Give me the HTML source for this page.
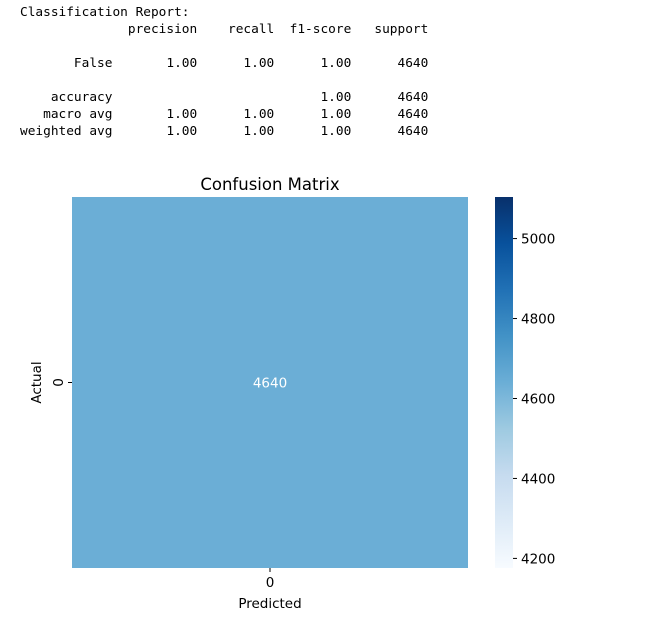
<!DOCTYPE html>
<html><head><meta charset="utf-8"><style>
body{margin:0;width:657px;height:640px;background:#fff;position:relative;overflow:hidden;font-family:"DejaVu Sans","Liberation Sans",sans-serif}
pre{position:absolute;left:20px;top:4px;margin:0;font-family:"DejaVu Sans Mono","Liberation Mono",monospace;font-size:12.8px;line-height:17px;color:#000}
</style></head><body>
<pre>Classification Report:
              precision    recall  f1-score   support

       False       1.00      1.00      1.00      4640

    accuracy                           1.00      4640
   macro avg       1.00      1.00      1.00      4640
weighted avg       1.00      1.00      1.00      4640
</pre>
<svg id="chart" width="657" height="640" style="position:absolute;left:0;top:0;font-family:'DejaVu Sans','Liberation Sans',sans-serif">
<defs><linearGradient id="blues" x1="0" y1="1" x2="0" y2="0">
<stop offset="0" stop-color="#f7fbff"/><stop offset="0.125" stop-color="#deebf7"/><stop offset="0.25" stop-color="#c6dbef"/><stop offset="0.375" stop-color="#9ecae1"/><stop offset="0.5" stop-color="#6baed6"/><stop offset="0.625" stop-color="#4292c6"/><stop offset="0.75" stop-color="#2171b5"/><stop offset="0.875" stop-color="#08519c"/><stop offset="1" stop-color="#08306b"/></linearGradient></defs>
</svg>
<script>
const rowLabels=["0"];
const colLabels=["0"];
const cellValues=[[4640]];
const cbTicks=[4200,4400,4600,4800,5000];
const vmin=4176, vmax=5104;
const svg=document.getElementById('chart');
const NS="http://www.w3.org/2000/svg";
function mk(t,a,txt){const e=document.createElementNS(NS,t);for(const k in a)e.setAttribute(k,a[k]);if(txt!=null)e.textContent=txt;svg.appendChild(e);return e;}
const X0=72,X1=468,Y0=197,Y1=568;
const cw=(X1-X0)/colLabels.length, ch=(Y1-Y0)/rowLabels.length;
const stops=[[0,[247,251,255]],[.125,[222,235,247]],[.25,[198,219,239]],[.375,[158,202,225]],[.5,[107,174,214]],[.625,[66,146,198]],[.75,[33,113,181]],[.875,[8,81,156]],[1,[8,48,107]]];
function color(v){let t=Math.max(0,Math.min(1,(v-vmin)/(vmax-vmin)));for(let i=1;i<stops.length;i++){if(t<=stops[i][0]){const a=stops[i-1],b=stops[i],f=(t-a[0])/(b[0]-a[0]);return 'rgb('+a[1].map((c,j)=>Math.round(c+(b[1][j]-c)*f)).join(',')+')';}}return 'rgb(8,48,107)';}
cellValues.forEach((row,r)=>row.forEach((v,c)=>{
 const rect=mk('rect',{x:X0+c*cw,y:Y0+r*ch,width:cw,height:ch,fill:color(v)});
 
 
 const t=mk('text',{x:X0+(c+.5)*cw,y:Y0+(r+.5)*ch+5,'text-anchor':'middle','font-size':13.5,fill:'#fff'},String(v));
 
 
}));
colLabels.forEach((l,c)=>{const x=X0+(c+.5)*cw;mk('line',{x1:x,x2:x,y1:Y1,y2:Y1+4,stroke:'#000'});
 const t=mk('text',{x:x,y:Y1+19,'text-anchor':'middle','font-size':13.5},l);
 
 });
rowLabels.forEach((l,r)=>{const y=Y0+(r+.5)*ch;mk('line',{x1:X0-4,x2:X0,y1:y,y2:y,stroke:'#000'});
 const t=mk('text',{x:X0-9,y:y,'text-anchor':'middle','font-size':13.5,transform:`rotate(-90 ${X0-9} ${y})`},l);
 
 });
let e;
e=mk('text',{x:(X0+X1)/2,y:190,'text-anchor':'middle','font-size':16.5},'Confusion Matrix');


e=mk('text',{x:(X0+X1)/2,y:608,'text-anchor':'middle','font-size':13.5},'Predicted');


e=mk('text',{x:41,y:(Y0+Y1)/2,'text-anchor':'middle','font-size':13.5,transform:`rotate(-90 41 ${(Y0+Y1)/2})`},'Actual');


const CX0=495,CX1=513;
e=mk('rect',{x:CX0,y:Y0,width:CX1-CX0,height:Y1-Y0,fill:'url(#blues)'});


cbTicks.forEach(v=>{const y=Y1-(v-vmin)/(vmax-vmin)*(Y1-Y0);
 mk('line',{x1:CX1,x2:CX1+4,y1:y,y2:y,stroke:'#000'});
 const t=mk('text',{x:CX1+8,y:y+5,'font-size':13.5},String(v));
 
 });
</script>
</body></html>
